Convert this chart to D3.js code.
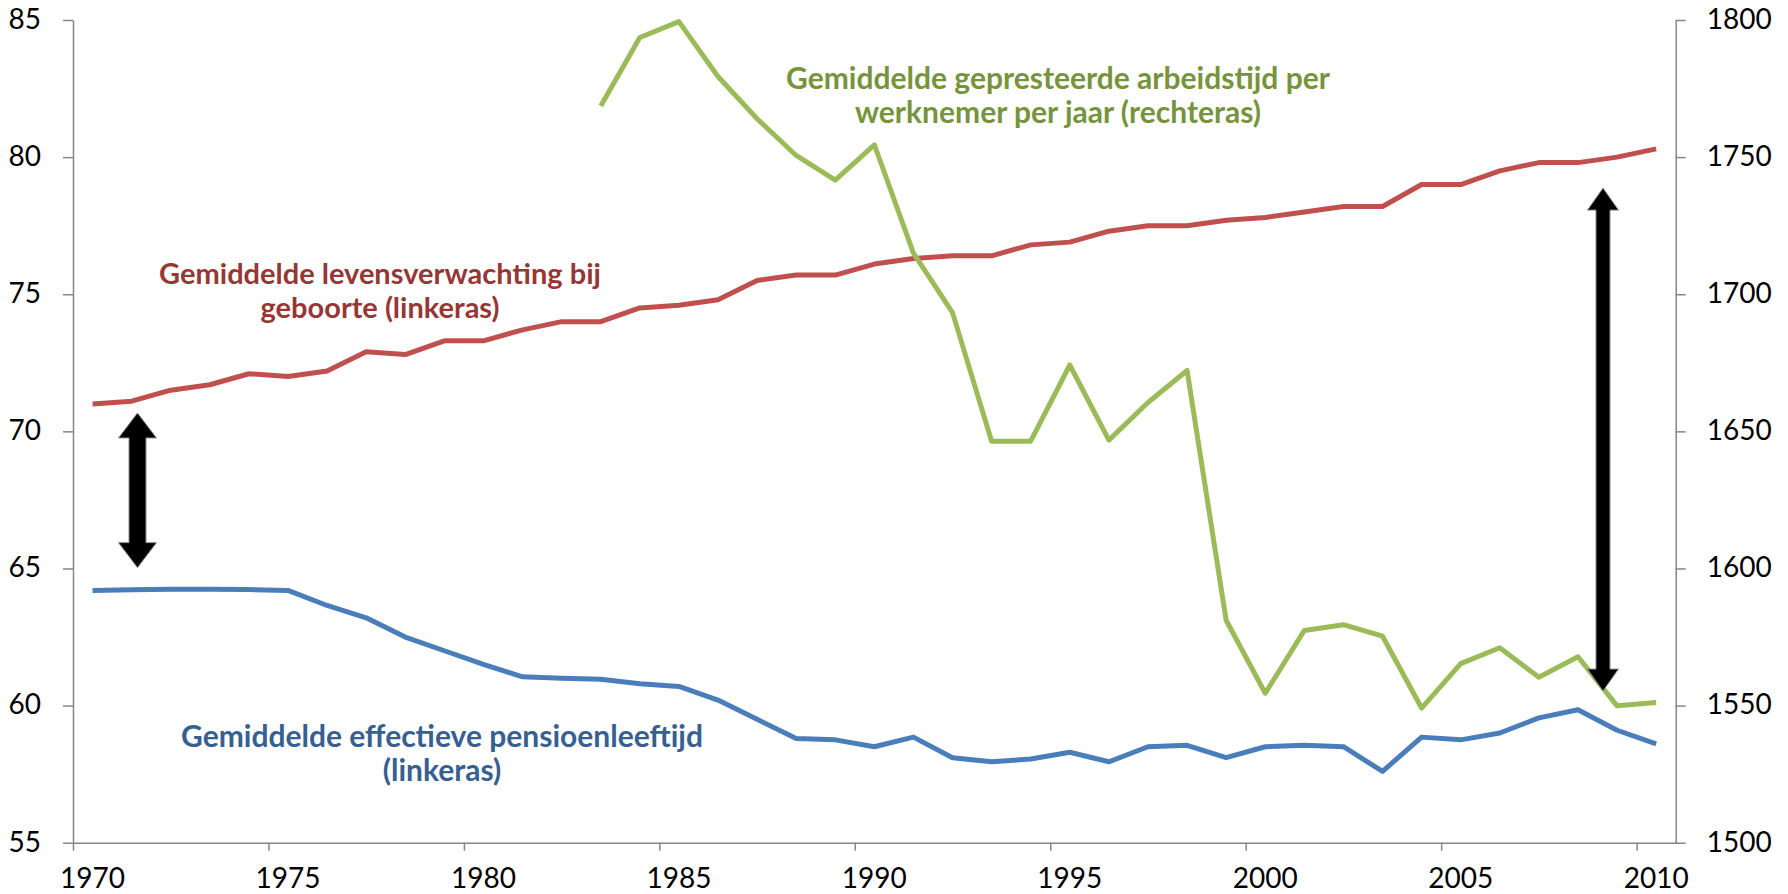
<!DOCTYPE html>
<html>
<head>
<meta charset="utf-8">
<script src="https://cdn.jsdelivr.net/npm/d3@7"></script>
<style>
  body { margin: 0; background: #fff; }
  svg { display: block; font-family: Lato, "Open Sans", sans-serif; }
  .axis path, .axis line { stroke: #868686; stroke-width: 1.5; }
  .axis text { fill: #000; font-size: 28px; font-family: Lato, sans-serif; }
</style>
</head>
<body>
<svg id="chart" width="1788" height="894"></svg>
<script>
// data
const years = d3.range(1970, 2011);

const lifeExpectancy = [
  71.0, 71.1, 71.5, 71.7, 72.1, 72.0, 72.2, 72.9, 72.8, 73.3,
  73.3, 73.7, 74.0, 74.0, 74.5, 74.6, 74.8, 75.5, 75.7, 75.7,
  76.1, 76.3, 76.4, 76.4, 76.8, 76.9, 77.3, 77.5, 77.5, 77.7,
  77.8, 78.0, 78.2, 78.2, 79.0, 79.0, 79.5, 79.8, 79.8, 80.0,
  80.3
];

const retirementAge = [
  64.2, 64.22, 64.24, 64.24, 64.23, 64.2, 63.65, 63.2, 62.5, 62.0,
  61.5, 61.05, 61.0, 60.96, 60.8, 60.7, 60.2, 59.5, 58.8, 58.75,
  58.5, 58.85, 58.1, 57.95, 58.05, 58.3, 57.95, 58.5, 58.55, 58.1,
  58.5, 58.55, 58.5, 57.6, 58.85, 58.75, 59.0, 59.55, 59.85, 59.1,
  58.6
];

// hours worked per employee per year, from 1983 on
const hoursYears = d3.range(1983, 2011);
const hoursWorked = [
  1768.6, 1793.6, 1799.4, 1779.4, 1764.0, 1750.6, 1741.6, 1754.5, 1715.0, 1693.3,
  1646.4, 1646.4, 1674.2, 1646.8, 1660.5, 1672.2, 1581.1, 1554.5, 1577.4, 1579.5,
  1575.3, 1549.1, 1565.3, 1571.1, 1560.3, 1567.8, 1549.9, 1551.1
];

const leftTicks = [55, 60, 65, 70, 75, 80, 85];
const rightTicks = [1500, 1550, 1600, 1650, 1700, 1750, 1800];
const labelYears = [1970, 1975, 1980, 1985, 1990, 1995, 2000, 2005, 2010];

// double arrows: x in years (category boundaries), ends in left axis units
const arrows = [
  { at: 1971.65, top: 70.67, bottom: 65.03, head: 38, shaft: 17, headH: 25 },
  { at: 2009.14, top: 78.87, bottom: 60.53, head: 31, shaft: 14, headH: 22 }
];

const svg = d3.select('#chart');
const plotLeft = 73, plotRight = 1675.7, plotTop = 20, plotBottom = 842.7;

const x = d3.scaleBand().domain(years).range([plotLeft, plotRight]).padding(0);
const xEdge = d3.scaleLinear().domain([1970, 2011]).range([plotLeft, plotRight]);
const yL = d3.scaleLinear().domain([55, 85]).range([plotBottom, plotTop]);
const yR = d3.scaleLinear().domain([1500, 1800]).range([plotBottom, plotTop]);
const cx = d => x(d) + x.bandwidth() / 2;

// axes
svg.append('g').attr('class', 'axis')
  .attr('transform', `translate(${plotLeft},0)`)
  .call(d3.axisLeft(yL).tickValues(leftTicks).tickSize(10).tickPadding(22).tickSizeOuter(0))
  .call(g => g.selectAll('text').attr('dy', '0.3em'));

svg.append('g').attr('class', 'axis')
  .attr('transform', `translate(${plotRight},0)`)
  .call(d3.axisRight(yR).tickValues(rightTicks).tickFormat(d3.format('d'))
    .tickSize(10).tickPadding(21).tickSizeOuter(0))
  .call(g => g.selectAll('text').attr('dy', '0.3em'));

svg.append('g').attr('class', 'axis')
  .attr('transform', `translate(0,${plotBottom})`)
  .call(d3.axisBottom(xEdge).tickValues(d3.range(1970, 2011, 5)).tickSize(8).tickFormat('').tickSizeOuter(0));

svg.append('g').attr('class', 'axis')
  .attr('transform', `translate(0,${plotBottom})`)
  .call(d3.axisBottom(x).tickValues(labelYears).tickSize(0).tickPadding(25))
  .call(g => g.select('.domain').remove());

// lines
const lineL = d3.line().x((d, i) => cx(years[i])).y(d => yL(d));
const lineR = d3.line().x((d, i) => cx(hoursYears[i])).y(d => yR(d));

svg.append('path').datum(retirementAge)
  .attr('d', lineL).attr('fill', 'none')
  .attr('stroke', '#4a7ebb').attr('stroke-width', 5).attr('stroke-linejoin', 'round');

svg.append('path').datum(lifeExpectancy)
  .attr('d', lineL).attr('fill', 'none')
  .attr('stroke', '#c0504d').attr('stroke-width', 5).attr('stroke-linejoin', 'round');

svg.append('path').datum(hoursWorked)
  .attr('d', lineR).attr('fill', 'none')
  .attr('stroke', '#9bbb59').attr('stroke-width', 5).attr('stroke-linejoin', 'round');

// arrows
arrows.forEach(a => {
  const xc = xEdge(a.at), y0 = yL(a.top), y1 = yL(a.bottom);
  const hw = a.head / 2, sw = a.shaft / 2;
  const p = d3.path();
  p.moveTo(xc, y0);
  p.lineTo(xc + hw, y0 + a.headH);
  p.lineTo(xc + sw, y0 + a.headH);
  p.lineTo(xc + sw, y1 - a.headH);
  p.lineTo(xc + hw, y1 - a.headH);
  p.lineTo(xc, y1);
  p.lineTo(xc - hw, y1 - a.headH);
  p.lineTo(xc - sw, y1 - a.headH);
  p.lineTo(xc - sw, y0 + a.headH);
  p.lineTo(xc - hw, y0 + a.headH);
  p.closePath();
  svg.append('path').attr('d', p.toString())
    .attr('fill', '#000').attr('stroke', '#8c8c8c').attr('stroke-width', 1);
});

// series labels
const labels = [
  { lines: ['Gemiddelde levensverwachting bij', 'geboorte (linkeras)'], x: 380, y: 284, color: '#953735', size: 29 },
  { lines: ['Gemiddelde gepresteerde arbeidstijd per', 'werknemer per jaar (rechteras)'], x: 1058, y: 89, color: '#77933c', size: 30 },
  { lines: ['Gemiddelde effectieve pensioenleeftijd', '(linkeras)'], x: 442, y: 747, color: '#376092', size: 30 }
];

labels.forEach(l => {
  const t = svg.append('text')
    .attr('x', l.x).attr('y', l.y)
    .attr('text-anchor', 'middle')
    .attr('fill', l.color)
    .style('font-size', l.size + 'px').style('font-weight', 'bold');
  l.lines.forEach((s, i) => {
    t.append('tspan').attr('x', l.x).attr('dy', i ? 34 : 0).text(s);
  });
});
</script>
</body>
</html>
